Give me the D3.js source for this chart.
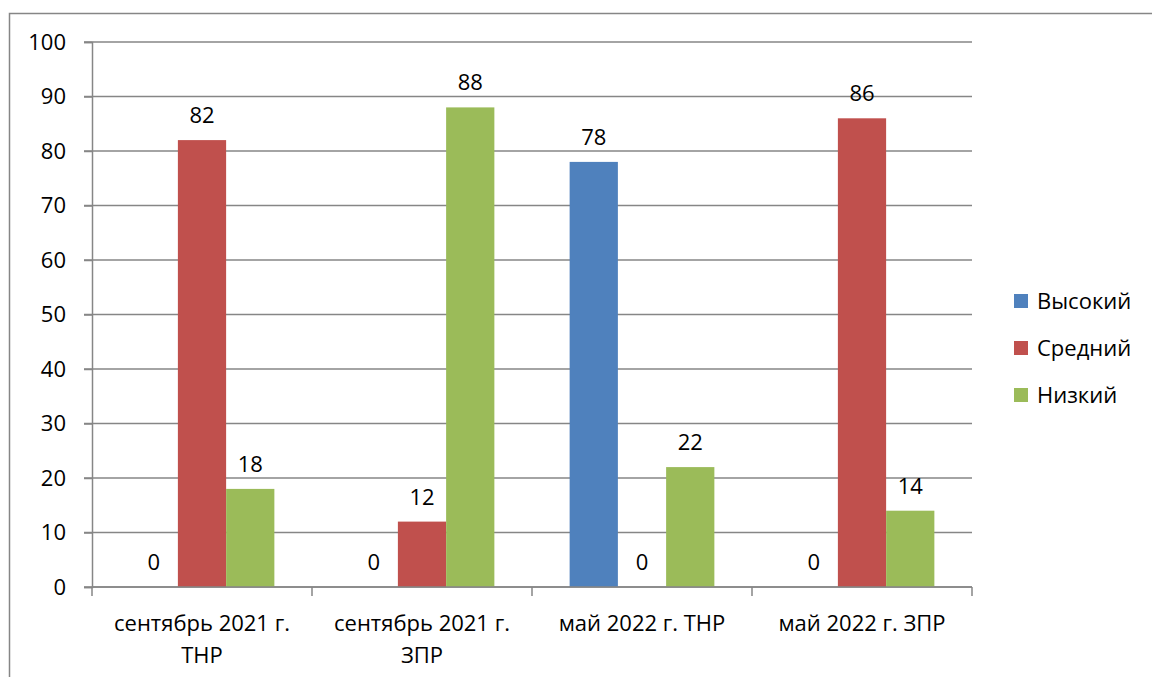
<!DOCTYPE html>
<html>
<head>
<meta charset="utf-8">
<script src="https://cdn.jsdelivr.net/npm/d3@7"></script>
<style>
  body { margin: 0; background: #fff; }
  text { font-family: "Open Sans", sans-serif; fill: #000; }
</style>
</head>
<body>
<div id="chart"></div>
<script>
// Data
const categories = [['сентябрь 2021 г.', 'ТНР'], ['сентябрь 2021 г.', 'ЗПР'], ['май 2022 г. ТНР'], ['май 2022 г. ЗПР']];
const seriesNames = ['Высокий', 'Средний', 'Низкий'];
const seriesColors = ['#4F81BD', '#C0504D', '#9BBB59'];
const highValues = [0, 0, 78, 0];
const midValues = [82, 12, 0, 86];
const lowValues = [18, 88, 22, 14];
const yTicks = [0, 10, 20, 30, 40, 50, 60, 70, 80, 90, 100];

const series = [highValues, midValues, lowValues];

const width = 1152, height = 677;
const plot = {left: 92, right: 972, top: 42, bottom: 587};
const fontSize = '22px';

let svg = d3.select('#chart')
  .append('svg')
    .attr('width', width)
    .attr('height', height);

// Outer frame
svg.append('rect')
  .attr('x', 9.5)
  .attr('y', 13.5)
  .attr('width', 1200)
  .attr('height', 700)
  .attr('fill', 'none')
  .attr('stroke', '#868686')
  .attr('stroke-width', 1.5);

// Scales
let x0 = d3.scaleBand()
  .domain(d3.range(categories.length))
  .range([plot.left, plot.right]);

let x1 = d3.scaleBand()
  .domain(d3.range(series.length))
  .range([0, x0.bandwidth()])
  .paddingInner(0)
  .paddingOuter(0.78);

let y = d3.scaleLinear()
  .domain([0, 100])
  .range([plot.bottom, plot.top]);

// Gridlines
svg.append('g')
  .selectAll('line')
  .data(yTicks)
  .enter().append('line')
    .attr('x1', plot.left - 8)
    .attr('x2', plot.right)
    .attr('y1', d => y(d))
    .attr('y2', d => y(d))
    .attr('stroke', '#868686')
    .attr('stroke-width', 1.5);

// Y axis
let yAxis = svg.append('g')
  .attr('transform', 'translate(' + plot.left + ',0)')
  .call(d3.axisLeft(y).tickValues(yTicks).tickSize(8).tickPadding(18));
yAxis.select('.domain').attr('stroke', '#868686').attr('stroke-width', 1.5);
yAxis.selectAll('.tick line').attr('stroke', '#868686').attr('stroke-width', 1.5);
yAxis.selectAll('text')
  .style('font-family', '"Open Sans", sans-serif')
  .style('font-size', fontSize)
  .attr('fill', '#000');

// Bars
let groups = svg.append('g')
  .selectAll('g')
  .data(categories)
  .enter().append('g')
    .attr('transform', (d, i) => 'translate(' + x0(i) + ',0)');

groups.selectAll('rect')
  .data((d, i) => series.map((s, k) => ({k: k, v: s[i]})))
  .enter().append('rect')
    .attr('x', d => x1(d.k))
    .attr('y', d => y(d.v))
    .attr('width', x1.bandwidth())
    .attr('height', d => y(0) - y(d.v))
    .attr('fill', d => seriesColors[d.k]);

groups.selectAll('text.label')
  .data((d, i) => series.map((s, k) => ({k: k, v: s[i]})))
  .enter().append('text')
    .attr('class', 'label')
    .attr('x', d => x1(d.k) + x1.bandwidth() / 2)
    .attr('y', d => y(d.v) - 17)
    .attr('text-anchor', 'middle')
    .style('font-size', fontSize)
    .text(d => d.v);

// X axis
svg.append('line')
  .attr('x1', plot.left)
  .attr('x2', plot.right)
  .attr('y1', plot.bottom)
  .attr('y2', plot.bottom)
  .attr('stroke', '#868686')
  .attr('stroke-width', 1.5);

svg.append('g')
  .selectAll('line')
  .data(d3.range(categories.length + 1))
  .enter().append('line')
    .attr('x1', i => plot.left + i * x0.bandwidth())
    .attr('x2', i => plot.left + i * x0.bandwidth())
    .attr('y1', plot.bottom)
    .attr('y2', plot.bottom + 9)
    .attr('stroke', '#868686')
    .attr('stroke-width', 1.5);

let catLabels = svg.append('g')
  .selectAll('text')
  .data(categories)
  .enter().append('text')
    .attr('x', (d, i) => x0(i) + x0.bandwidth() / 2)
    .attr('y', 631)
    .attr('text-anchor', 'middle')
    .style('font-size', fontSize);
catLabels.selectAll('tspan')
  .data(d => d)
  .enter().append('tspan')
    .attr('x', function() { return this.parentNode.getAttribute('x'); })
    .attr('dy', (d, i) => i === 0 ? 0 : 32)
    .text(d => d);

// Legend
let legend = svg.append('g')
  .selectAll('g')
  .data(seriesNames)
  .enter().append('g')
    .attr('transform', (d, i) => 'translate(1014,' + (301 + i * 47) + ')');
legend.append('rect')
  .attr('x', 0)
  .attr('y', -7)
  .attr('width', 14)
  .attr('height', 14)
  .attr('fill', (d, i) => seriesColors[i]);
legend.append('text')
  .attr('x', 23)
  .attr('y', 8)
  .style('font-size', fontSize)
  .text(d => d);
</script>
</body>
</html>
